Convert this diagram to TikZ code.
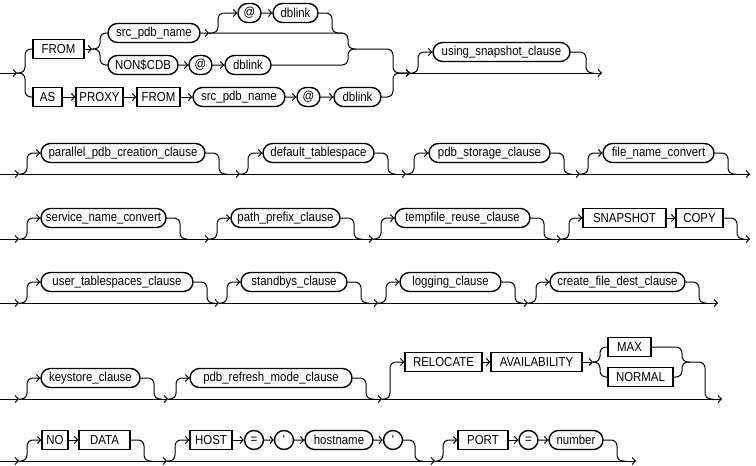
\documentclass[tikz,border=0pt]{standalone}
\usepackage{fontspec}
\setmainfont{Liberation Sans}[FakeStretch=0.88]
\usetikzlibrary{arrows.meta,shapes.misc}
\newcommand\rbox[6]{\node[#1, minimum width=#5pt-#4pt] (#2) at ({(#4+#5)/2},#6) {#3};}
\newcommand\optin[2]{\draw[ar] (#1) -- ++(8,0) |- (#2.west);}
\newcommand\optout[3]{\draw[ln] (#1.east) -| (#2,#3) -- ++(8,0);}
\begin{document}
\begin{tikzpicture}[x=1pt,y=-1pt,
  kw/.style={draw,line width=1.4pt,rectangle,minimum height=19pt,inner sep=0pt,font=\fontsize{13}{14}\selectfont},
  nt/.style={kw,rounded rectangle},
  ln/.style={line width=1pt,rounded corners=6pt},
  ar/.style={ln,-{Straight Barb[length=3.2pt,width=7pt]}}]
\useasboundingbox (0,0) rectangle (756,466);
% ---------------- Row 1
\rbox{kw}{from1}{FROM}{33}{84}{49}
\rbox{nt}{srcA}{src\_pdb\_name}{108}{200}{33}
\rbox{nt}{atA}{@}{238}{261}{13}
\rbox{nt}{dbA}{dblink}{273}{318}{13}
\rbox{nt}{nonc}{NON\$CDB}{108}{178}{65}
\rbox{nt}{atB}{@}{189}{212}{65}
\rbox{nt}{dbB}{dblink}{225}{271}{65}
\rbox{kw}{as}{AS}{33}{62}{97}
\rbox{kw}{proxy}{PROXY}{76}{123}{97}
\rbox{kw}{from2}{FROM}{137}{180}{97}
\rbox{nt}{srcB}{src\_pdb\_name}{193}{285}{97}
\rbox{nt}{atC}{@}{297}{320}{97}
\rbox{nt}{dbC}{dblink}{334}{381}{97}
\rbox{nt}{usc}{using\_snapshot\_clause}{433}{570}{52}
\coordinate (r1s) at (0,73);
\coordinate (r1a) at (17,73);
\coordinate (r1b) at (92,49);
\coordinate (r1c) at (209,33);
\coordinate (r1d) at (410,73);
\coordinate (r1e) at (602,73);
\draw[ar] (r1s) -- (r1a);
\draw[ln] (r1a) -- (25,73) |- (from1.west);
\draw[ln] (r1a) -- (25,73) |- (as.west);
\draw[ar] (from1) -- (r1b);
\draw[ln] (r1b) -- (100,49) |- (srcA.west);
\draw[ln] (r1b) -- (100,49) |- (nonc.west);
\draw[ar] (srcA) -- (r1c);
\draw[ar] (r1c) -- (218,33) |- (atA.west);
\draw[ar] (atA) -- (dbA);
\draw[ln] (dbA.east) -- (332,13) -- (332,33) -- (342,33);
\draw[ar] (r1c) -- (348,33) -- (348,49) -- (393,49) -- (393,73) -- (r1d);
\draw[ar] (nonc) -- (atB);
\draw[ar] (atB) -- (dbB);
\draw[ln] (dbB.east) -- (348,65) -- (348,49) -- (356,49);
\draw[ar] (as) -- (proxy);
\draw[ar] (proxy) -- (from2);
\draw[ar] (from2) -- (srcB);
\draw[ar] (srcB) -- (atC);
\draw[ar] (atC) -- (dbC);
\draw[ar] (dbC.east) -- (393,97) -- (393,73) -- (r1d);
\optin{r1d}{usc}
\draw[ln] (usc.east) -- (586,52) -- (586,73) -- (594,73);
\draw[ar] (r1d) -- (r1e);
% ---------------- Row 2
\rbox{nt}{ppc}{parallel\_pdb\_creation\_clause}{41}{205}{153}
\rbox{nt}{dts}{default\_tablespace}{263}{374}{153}
\rbox{nt}{psc}{pdb\_storage\_clause}{429}{550}{153}
\rbox{nt}{fnc}{file\_name\_convert}{603}{714}{153}
\coordinate (r2s) at (0,174);
\coordinate (r2a) at (19,174);
\coordinate (r2b) at (240,174);
\coordinate (r2c) at (406,174);
\coordinate (r2d) at (580,174);
\coordinate (r2e) at (750,174);
\draw[ar] (r2s) -- (r2a);
\draw[ar] (r2a) -- (r2b);
\draw[ar] (r2b) -- (r2c);
\draw[ar] (r2c) -- (r2d);
\draw[ar] (r2d) -- (r2e);
\optin{r2a}{ppc} \optout{ppc}{219}{174}
\optin{r2b}{dts} \optout{dts}{388}{174}
\optin{r2c}{psc} \optout{psc}{564}{174}
\optin{r2d}{fnc} \optout{fnc}{728}{174}
% ---------------- Row 3
\rbox{nt}{snc}{service\_name\_convert}{41}{166}{218}
\rbox{nt}{ppx}{path\_prefix\_clause}{231}{340}{218}
\rbox{nt}{trc}{tempfile\_reuse\_clause}{395}{530}{218}
\rbox{kw}{snap}{SNAPSHOT}{583}{666}{218}
\rbox{kw}{copy}{COPY}{676}{723}{218}
\coordinate (r3s) at (0,239);
\coordinate (r3a) at (19,239);
\coordinate (r3b) at (209,239);
\coordinate (r3c) at (373,239);
\coordinate (r3d) at (561,239);
\coordinate (r3e) at (750,239);
\draw[ar] (r3s) -- (r3a);
\draw[ar] (r3a) -- (r3b);
\draw[ar] (r3b) -- (r3c);
\draw[ar] (r3c) -- (r3d);
\draw[ar] (r3d) -- (r3e);
\optin{r3a}{snc} \optout{snc}{180}{239}
\optin{r3b}{ppx} \optout{ppx}{354}{239}
\optin{r3c}{trc} \optout{trc}{544}{239}
\optin{r3d}{snap}
\draw[ar] (snap) -- (copy);
\optout{copy}{737}{239}
% ---------------- Row 4
\rbox{nt}{utc}{user\_tablespaces\_clause}{41}{193}{282}
\rbox{nt}{sbc}{standbys\_clause}{241}{347}{282}
\rbox{nt}{lgc}{logging\_clause}{400}{501}{282}
\rbox{nt}{cfd}{create\_file\_dest\_clause}{550}{685}{282}
\coordinate (r4s) at (0,303);
\coordinate (r4a) at (19,303);
\coordinate (r4b) at (219,303);
\coordinate (r4c) at (378,303);
\coordinate (r4d) at (528,303);
\coordinate (r4e) at (718,303);
\draw[ar] (r4s) -- (r4a);
\draw[ar] (r4a) -- (r4b);
\draw[ar] (r4b) -- (r4c);
\draw[ar] (r4c) -- (r4d);
\draw[ar] (r4d) -- (r4e);
\optin{r4a}{utc} \optout{utc}{207}{303}
\optin{r4b}{sbc} \optout{sbc}{361}{303}
\optin{r4c}{lgc} \optout{lgc}{515}{303}
\optin{r4d}{cfd} \optout{cfd}{699}{303}
% ---------------- Row 5
\rbox{nt}{ksc}{keystore\_clause}{41}{140}{378}
\rbox{nt}{prm}{pdb\_refresh\_mode\_clause}{190}{352}{378}
\rbox{kw}{reloc}{RELOCATE}{405}{482}{362}
\rbox{kw}{avail}{AVAILABILITY}{491}{582}{362}
\rbox{kw}{max}{MAX}{608}{651}{347}
\rbox{kw}{normal}{NORMAL}{608}{673}{377}
\coordinate (r5s) at (0,399);
\coordinate (r5a) at (19,399);
\coordinate (r5b) at (168,399);
\coordinate (r5c) at (382,399);
\coordinate (r5e) at (722,399);
\coordinate (r5k) at (593,362);
\draw[ar] (r5s) -- (r5a);
\draw[ar] (r5a) -- (r5b);
\draw[ar] (r5b) -- (r5c);
\draw[ar] (r5c) -- (r5e);
\optin{r5a}{ksc} \optout{ksc}{154}{399}
\optin{r5b}{prm} \optout{prm}{366}{399}
\optin{r5c}{reloc}
\draw[ar] (reloc) -- (avail);
\draw[ar] (avail) -- (r5k);
\draw[ln] (r5k) -- (600,362) |- (max.west);
\draw[ln] (r5k) -- (600,362) |- (normal.west);
\draw[ln] (max.east) -- (682,347) -- (682,362) -- (705,362) -- (705,399) -- (714,399);
\draw[ln] (normal.east) -- (682,377) -- (682,362) -- (690,362);
% ---------------- Row 6
\rbox{kw}{no}{NO}{42}{68}{440}
\rbox{kw}{data}{DATA}{79}{130}{440}
\rbox{kw}{host}{HOST}{190}{232}{440}
\rbox{nt}{eqA}{=}{245}{263}{440}
\rbox{nt}{qA}{\textquotesingle}{276}{292}{440}
\rbox{nt}{hn}{hostname}{305}{373}{440}
\rbox{nt}{qB}{\textquotesingle}{385}{401}{440}
\rbox{kw}{port}{PORT}{458}{508}{440}
\rbox{nt}{eqB}{=}{520}{537}{440}
\rbox{nt}{num}{number}{549}{603}{440}
\coordinate (r6s) at (0,461);
\coordinate (r6a) at (19,461);
\coordinate (r6b) at (167,461);
\coordinate (r6c) at (435,461);
\coordinate (r6e) at (636,461);
\draw[ar] (r6s) -- (r6a);
\draw[ar] (r6a) -- (r6b);
\draw[ar] (r6b) -- (r6c);
\draw[ar] (r6c) -- (r6e);
\optin{r6a}{no}
\draw[ar] (no) -- (data);
\optout{data}{144}{461}
\optin{r6b}{host}
\draw[ar] (host) -- (eqA);
\draw[ar] (eqA) -- (qA);
\draw[ar] (qA) -- (hn);
\draw[ar] (hn) -- (qB);
\optout{qB}{415}{461}
\optin{r6c}{port}
\draw[ar] (port) -- (eqB);
\draw[ar] (eqB) -- (num);
\optout{num}{617}{461}
\end{tikzpicture}
\end{document}
